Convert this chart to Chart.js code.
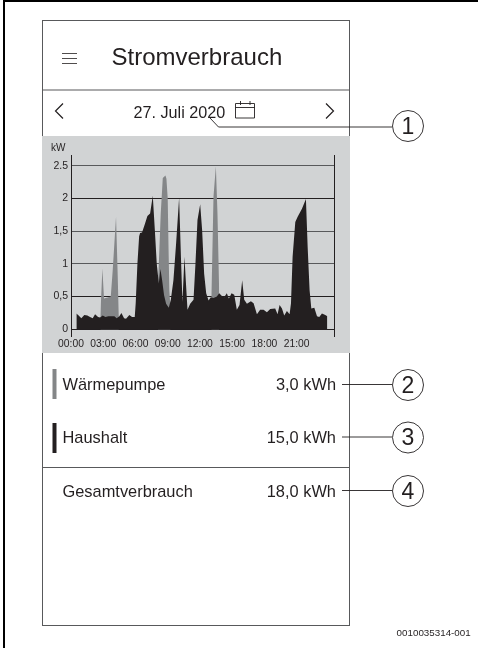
<!DOCTYPE html>
<html><head><meta charset="utf-8">
<style>
html,body{margin:0;padding:0;background:#fff;width:478px;height:648px;overflow:hidden;font-family:"Liberation Sans",Arial,sans-serif;color:#231f20}
#frameL{position:absolute;left:3px;top:0;width:2px;height:648px;background:#000}
#frameT{position:absolute;left:3px;top:0;width:475px;height:2px;background:#000}
#panel{position:absolute;left:41.5px;top:19.5px;width:308.5px;height:606px;box-sizing:border-box;border:1px solid #58595b}
#wrap{position:absolute;left:42px;top:136px;width:308px;height:217px;background:#d1d3d4}
.t{position:absolute;white-space:nowrap;line-height:1}
svg{position:absolute;left:0;top:0}
</style></head><body>
<div id="frameL"></div><div id="frameT"></div><div id="panel"></div>
<div id="wrap"><canvas id="c" width="308" height="217" style="width:308px;height:217px"></canvas></div>
<svg width="478" height="648" fill="none" stroke="#231f20">
<path d="M42 90H350M42 467.5H350" stroke="#58595b" stroke-width="1.2"/>
<path d="M62 53.5H77M62 58.5H77M62 63.5H77" stroke-width=".8"/>
<path d="M63 103.5L55.5 111L63 118.5M326 103.5L333.5 111L326 118.5" stroke-width="1.2"/>
<path d="M235.5 103.5H254.5V118H235.5ZM235.5 107.5H254.5M240.5 101V105M250 101V105" stroke-width=".9"/>
<path d="M210 118L218.5 127H392M342 384.5H392M342 437H392M342 490.5H392" stroke-width=".9"/>
<g fill="#fff" stroke-width=".9"><circle cx="408" cy="126" r="15.5"/><circle cx="408" cy="385" r="15.5"/><circle cx="408" cy="437.5" r="15.5"/><circle cx="408" cy="491" r="15.5"/></g>
<rect x="52.5" y="369" width="4" height="30" fill="#848688" stroke="none"/>
<rect x="52.5" y="423" width="4" height="30" fill="#231f20" stroke="none"/>
</svg>
<div class="t" style="left:111.5px;top:45px;font-size:24px">Stromverbrauch</div>
<div class="t" style="left:133.5px;top:104px;font-size:16.2px">27. Juli 2020</div>
<div class="t" style="left:62.5px;top:376px;font-size:16.4px">Wärmepumpe</div>
<div class="t" style="left:62.5px;top:429px;font-size:16.4px">Haushalt</div>
<div class="t" style="left:62.5px;top:483px;font-size:16.4px">Gesamtverbrauch</div>
<div class="t" style="right:142px;top:376px;font-size:16.4px">3,0 kWh</div>
<div class="t" style="right:142px;top:429px;font-size:16.4px">15,0 kWh</div>
<div class="t" style="right:142px;top:483px;font-size:16.4px">18,0 kWh</div>
<div class="t" style="left:400px;width:16px;text-align:center;top:114.5px;font-size:23px">1</div>
<div class="t" style="left:400px;width:16px;text-align:center;top:373.5px;font-size:23px">2</div>
<div class="t" style="left:400px;width:16px;text-align:center;top:426px;font-size:23px">3</div>
<div class="t" style="left:400px;width:16px;text-align:center;top:479.5px;font-size:23px">4</div>
<div class="t" style="right:7.3px;top:628px;font-size:9.8px">0010035314-001</div>
<script src="https://cdn.jsdelivr.net/npm/chart.js@4"></script>
<script>
const xTickHours = [0,3,6,9,12,15,18,21];
const xTickLabels = ['00:00','03:00','06:00','09:00','12:00','15:00','18:00','21:00'];
const yTickValues = [0,0.5,1,1.5,2,2.5];
const yTickLabels = ['0','0,5','1','1,5','2','2.5'];
const gridColors = ['#231f20','#231f20','#58595b','#58595b','#231f20','#58595b'];

const houseHours = [0.5,0.5,0.71,0.96,1.24,1.52,1.77,2.02,2.24,2.52,2.7,2.95,3.2,3.48,3.79,4.04,4.25,4.5,4.69,4.94,5.12,5.43,5.68,5.93,6.02,6.18,6.34,6.43,6.61,6.86,7.11,7.36,7.61,7.8,7.98,8.17,8.32,8.48,8.66,8.85,9.1,9.29,9.53,9.78,10.06,10.25,10.37,10.56,10.68,10.84,11.09,11.4,11.58,11.77,12.02,12.2,12.39,12.58,12.8,13.01,13.26,13.57,13.79,14.04,14.25,14.5,14.69,14.94,15.19,15.43,15.68,15.93,16.12,16.37,16.74,16.99,17.3,17.6,17.92,18.23,18.54,19,19.22,19.41,19.63,19.84,20.09,20.34,20.47,20.62,20.87,21.09,21.49,21.86,22.02,22.2,22.36,22.64,22.89,23.1,23.35,23.66,23.85,23.85];
const houseKw = [0,0.24,0.21,0.17,0.22,0.21,0.19,0.17,0.23,0.19,0.18,0.21,0.19,0.2,0.2,0.2,0.17,0.2,0.25,0.17,0.16,0.22,0.19,0.19,0.4,1.0,1.42,1.47,1.48,1.6,1.73,1.77,2.04,1.52,1.0,0.7,0.92,0.75,0.52,0.39,0.33,0.45,0.75,1.31,2.01,1.0,0.42,1.11,0.75,0.3,0.39,0.45,1.0,1.67,1.91,1.52,0.85,0.55,0.44,0.49,0.48,0.5,0.55,0.51,0.49,0.55,0.47,0.55,0.53,0.3,0.37,0.75,0.45,0.39,0.43,0.4,0.23,0.3,0.3,0.26,0.31,0.32,0.23,0.37,0.32,0.21,0.28,0.23,0.4,1.11,1.64,1.72,1.84,1.99,1.26,0.6,0.32,0.33,0.2,0.19,0.24,0.22,0.2,0];

const pumpHours = [2.73,2.73,2.92,3.07,3.7,3.88,4.19,4.35,4.44,4.44,8.1,8.1,8.35,8.54,8.79,8.88,9.0,9.08,9.15,9.25,9.25,13.07,13.07,13.26,13.48,13.63,13.79,13.79];
const pumpKw = [0,0.2,0.93,0.47,0.5,0.9,1.72,0.8,0.2,0,0,0.7,1.77,2.31,2.35,2.3,2.0,1.2,0.6,0.33,0,0,0.5,2.03,2.49,1.77,0.55,0];

const toPoints = (xs, ys) => xs.map((x, i) => ({x, y: ys[i]}));

new Chart(document.getElementById('c'), {
  type: 'line',
  data: { datasets: [
    { label:'Haushalt', data: toPoints(houseHours, houseKw), backgroundColor:'#231f20', borderWidth:0, pointRadius:0, fill:'origin', tension:0, order:1 },
    { label:'Wärmepumpe', data: toPoints(pumpHours, pumpKw), backgroundColor:'#848688', borderWidth:0, pointRadius:0, fill:'origin', tension:0, order:2 }
  ]},
  options: {
    responsive:false, animation:false, events:[],
    layout:{ padding:{ left:9, right:15.7, top:0, bottom:0 } },
    plugins:{
      legend:{display:false}, tooltip:{enabled:false},
      title:{ display:true, text:'kW', align:'start', color:'#231f20', font:{family:'"Liberation Sans"',size:10,weight:'normal'}, padding:{top:6,bottom:1} }
    },
    scales:{
      x:{ type:'linear', min:0, max:24.5,
        afterBuildTicks: s => { s.ticks = xTickHours.map(value => ({value})); },
        afterFit: s => { s.height = 17; },
        grid:{display:false, drawTicks:false}, border:{display:false},
        ticks:{ autoSkip:false, maxRotation:0, padding:2, color:'#231f20', font:{family:'"Liberation Sans"',size:10.3},
          callback: v => xTickLabels[xTickHours.indexOf(v)] }
      },
      y:{ type:'linear', min:-0.102, max:2.663,
        afterBuildTicks: s => { s.ticks = yTickValues.map(value => ({value})); },
        afterFit: s => { s.width = 20; },
        grid:{ color: c => gridColors[yTickValues.indexOf(c.tick && c.tick.value)] || '#231f20', lineWidth:1, drawTicks:false },
        border:{ display:true, color:'#231f20', width:1 },
        ticks:{ autoSkip:false, padding:3, color:'#231f20', font:{family:'"Liberation Sans"',size:10.5},
          callback: v => yTickLabels[yTickValues.indexOf(v)] }
      },
      yRight:{ type:'linear', position:'right', min:-0.102, max:2.663,
        afterFit: s => { s.width = 0; },
        grid:{display:false, drawTicks:false}, border:{ display:true, color:'#231f20', width:1 }, ticks:{display:false}
      }
    }
  }
});
</script>
</body></html>
